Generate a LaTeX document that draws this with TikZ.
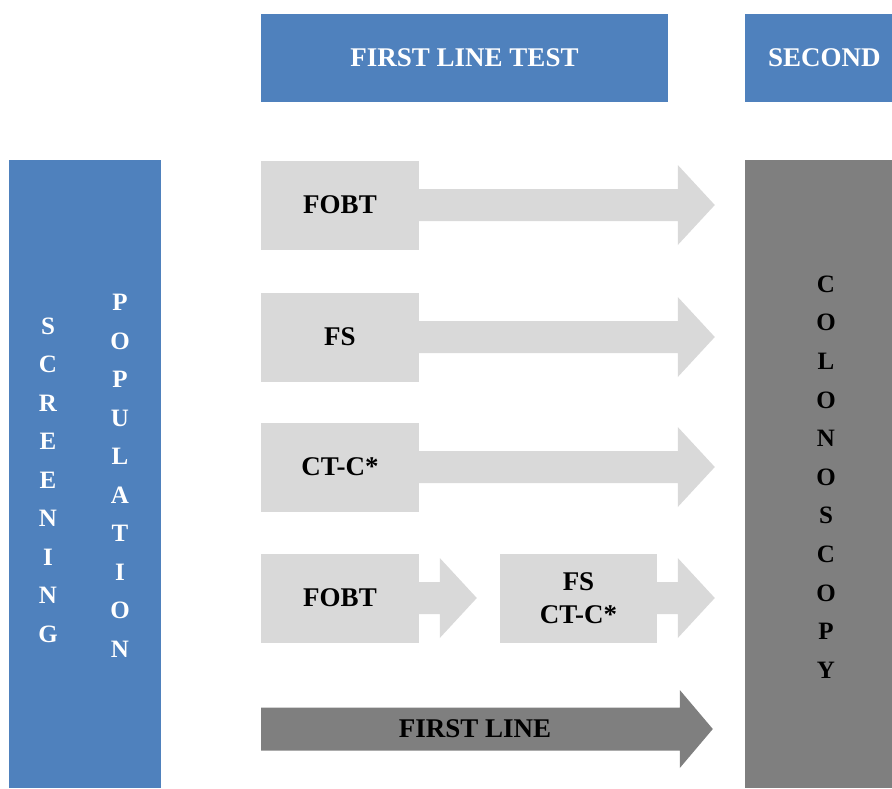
\documentclass[tikz,border=0pt]{standalone}
\usepackage{fontspec}
\setmainfont{Liberation Serif}
\usetikzlibrary{calc}

\definecolor{headblue}{HTML}{4F81BD}
\definecolor{lightgrey}{HTML}{D9D9D9}
\definecolor{darkgrey}{HTML}{7F7F7F}

% block arrow: fill colour, start node, tip coordinate
\newcommand{\blockarrow}[3]{%
  \fill[#1] ($(#2)+(-1,-\shaftW)$) -- ($(#3)+(-\headL,-\shaftW)$) -- ($(#3)+(-\headL,-\headW)$)
    -- (#3) -- ($(#3)+(-\headL,\headW)$) -- ($(#3)+(-\headL,\shaftW)$) -- ($(#2)+(-1,\shaftW)$) -- cycle;}

\begin{document}
\begin{tikzpicture}[x=1pt,y=-1pt,
    bar/.style={fill=headblue,minimum width=152pt,minimum height=628pt,inner sep=0pt},
    head/.style={fill=headblue,text=white,font=\fontsize{27}{32}\selectfont\bfseries,inner sep=0pt},
    testbox/.style={fill=lightgrey,minimum width=158pt,minimum height=89pt,inner sep=0pt,
      align=center,font=\fontsize{27}{33}\selectfont\bfseries},
    letters/.style={align=center,inner sep=0pt,font=\fontsize{25}{38.5}\selectfont\bfseries}]
    \useasboundingbox (0,0) rectangle (892,788);

    % Parameters
    \def\shaftW{16} % half width of the shaft
    \def\headW{40} % half width of the head
    \def\headL{37} % length of the head

    % Headers
    \fill[headblue] (261,14) rectangle (668,102);
    \node[head] (firstHead) at (464.5,58) {FIRST LINE TEST};
    \fill[headblue] (745,14) rectangle (892,102);
    \node[head,anchor=west] (secondHead) at (768,58) {SECOND};

    % Screening population
    \node[bar] (screenBar) at (85,474) {};
    \node[letters,text=white] (screenTxt) at (48,480) {S\\C\\R\\E\\E\\N\\I\\N\\G};
    \node[letters,text=white] (popTxt) at (120,476) {P\\O\\P\\U\\L\\A\\T\\I\\O\\N};

    % Colonoscopy
    \node[bar,fill=darkgrey,minimum width=147pt] (colonBar) at (818.5,474) {};
    \node[letters,font=\fontsize{25}{38.6}\selectfont\bfseries] (colonTxt) at (826,477) {C\\O\\L\\O\\N\\O\\S\\C\\O\\P\\Y};

    % First line tests
    \node[testbox] (fobtA) at (340,205) {FOBT};
    \blockarrow{lightgrey}{fobtA.east}{$(colonBar.west |- fobtA)+(-30,0)$}
    \node[testbox] (fsA) at (340,337) {FS};
    \blockarrow{lightgrey}{fsA.east}{$(colonBar.west |- fsA)+(-30,0)$}
    \node[testbox] (ctcA) at (340,467) {CT-C*};
    \blockarrow{lightgrey}{ctcA.east}{$(colonBar.west |- ctcA)+(-30,0)$}

    % FOBT followed by FS or CT-C
    \node[testbox] (fobtB) at (340,598) {FOBT};
    \node[testbox,minimum width=157pt] (fsctc) at (578.5,598) {FS\\CT-C*};
    \blockarrow{lightgrey}{fobtB.east}{$(fsctc.west)+(-23,0)$}
    \blockarrow{lightgrey}{fsctc.east}{$(colonBar.west |- fsctc)+(-30,0)$}

    % First line arrow
    \def\shaftW{21.5}
    \def\headW{39}
    \def\headL{33}
    \coordinate (flStart) at (262,729);
    \blockarrow{darkgrey}{flStart}{$(colonBar.west |- flStart)+(-32,0)$}
    \node[font=\fontsize{27}{32}\selectfont\bfseries,inner sep=0pt] (firstLine) at (475,729) {FIRST LINE};
\end{tikzpicture}
\end{document}
